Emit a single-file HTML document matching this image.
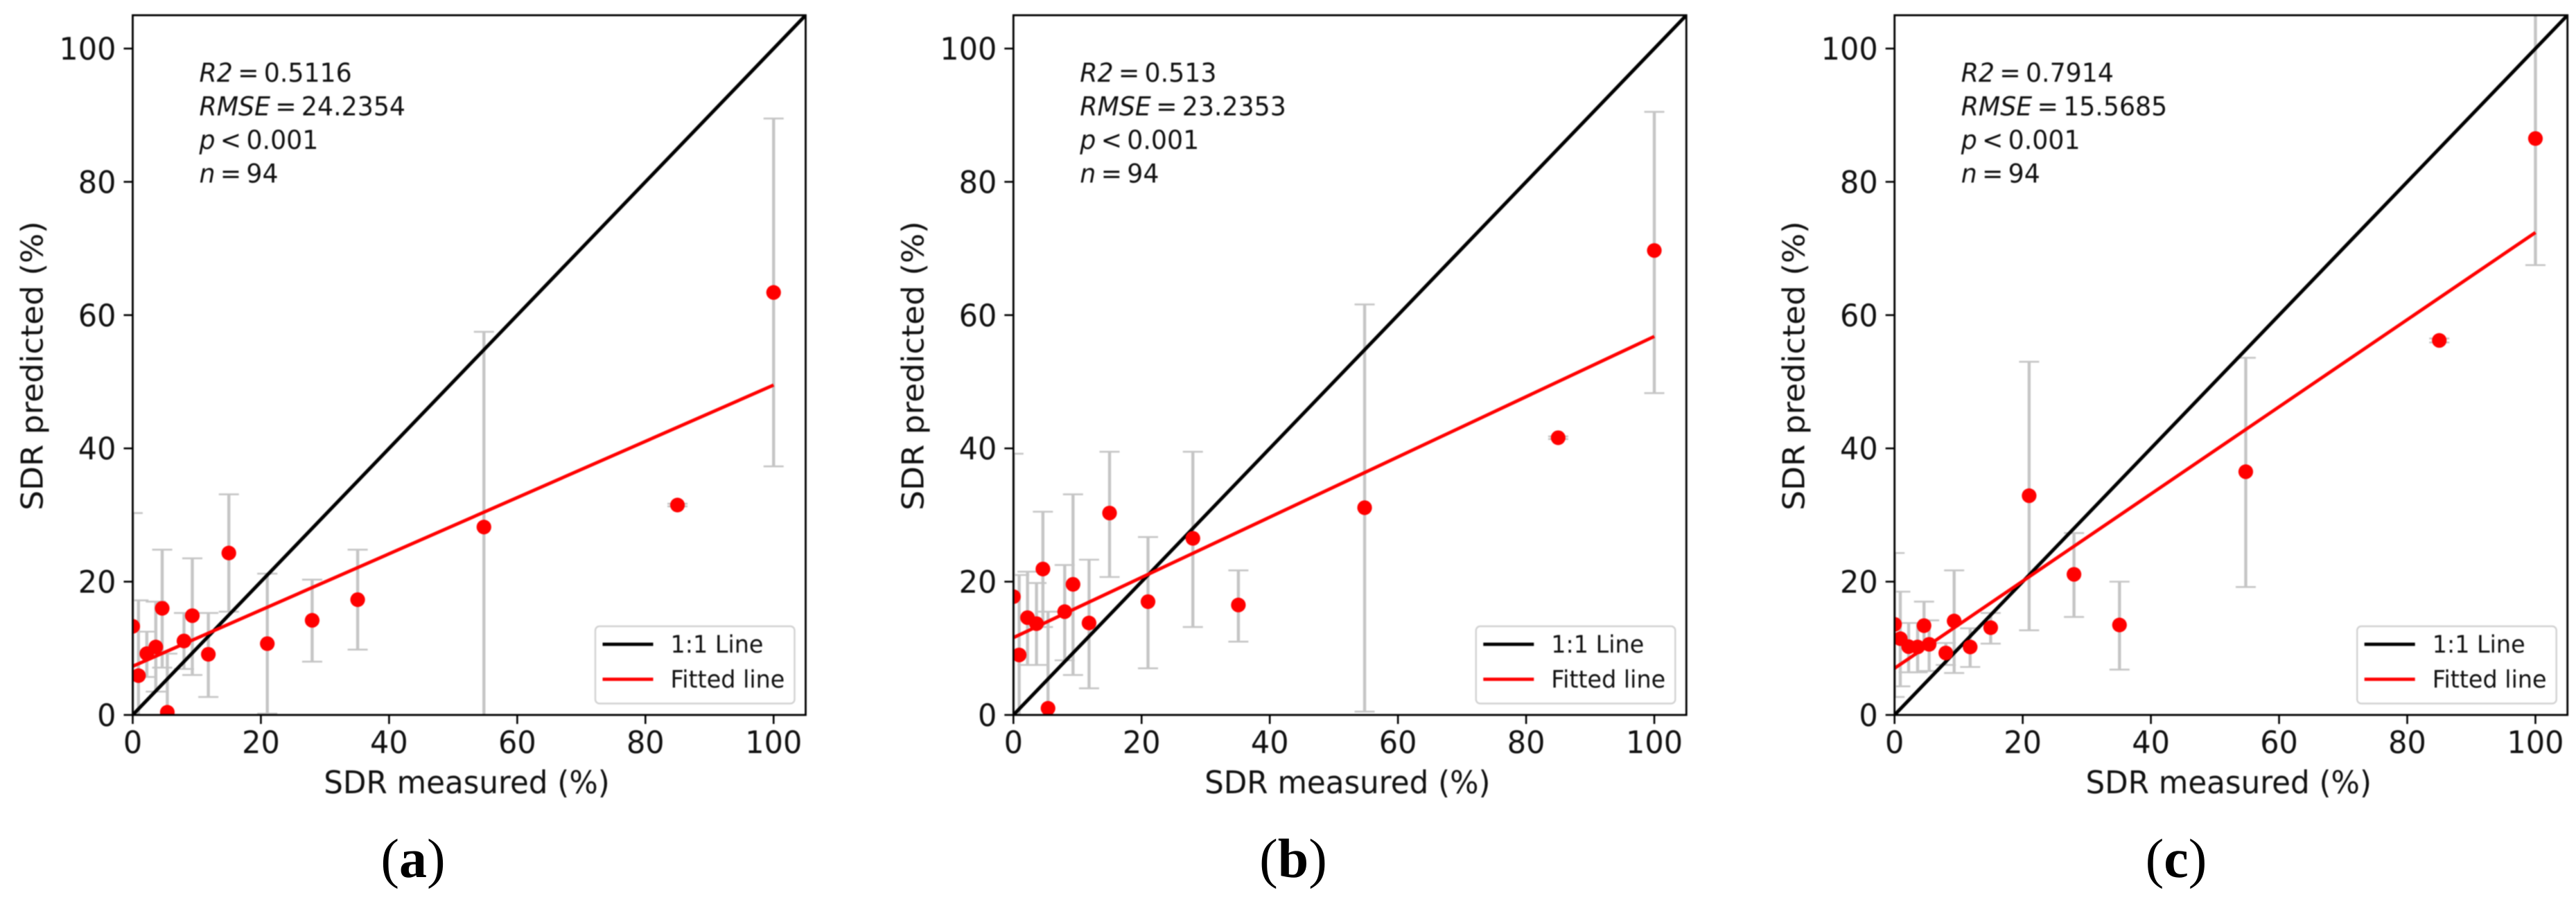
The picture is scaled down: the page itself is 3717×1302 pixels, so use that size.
<!DOCTYPE html>
<html lang="en">
<head>
<meta charset="utf-8">
<title>SDR measured vs predicted</title>
<style>
  html, body { margin: 0; padding: 0; background: #fff; }
  body { width: 3717px; height: 1302px; overflow: hidden; }
  svg { display: block; }
  text { font-family: "DejaVu Sans", "Liberation Sans", sans-serif; fill: #111; text-rendering: geometricPrecision; }
  .caption { font-family: "Liberation Serif", "DejaVu Serif", serif; fill: #000; }
  .soft { filter: blur(0.8px); }
</style>
</head>
<body>
<svg id="figure" xmlns="http://www.w3.org/2000/svg" width="3717" height="1302" viewBox="0 0 3717 1302">
  <rect x="0" y="0" width="3717" height="1302" fill="#fff"/>
  <defs id="defs"></defs>
</svg>
<script>
// ---- shared data ----
const measured = [0, 0.9, 2.2, 3.6, 4.6, 5.4, 8, 9.3, 11.8, 15, 21, 28, 35.1, 54.8, 85, 100];
const xTickValues = [0, 20, 40, 60, 80, 100];
const yTickValues = [0, 20, 40, 60, 80, 100];
const xTickLabels = ["0", "20", "40", "60", "80", "100"];
const yTickLabels = ["0", "20", "40", "60", "80", "100"];
const axisMax = 105;
const identityLine = [0, 105];
const fitX = [0, 100];
const legendLabels = ["1:1 Line", "Fitted line"];

// ---- panel (a) ----
const predictedA = [13.3, 5.9, 9.2, 10.2, 16.0, 0.4, 11.1, 14.9, 9.1, 24.3, 10.7, 14.2, 17.3, 28.2, 31.5, 63.4];
const upperA = [30.3, 17.2, 12.5, 17.0, 24.8, 9.2, 15.3, 23.5, 15.3, 33.1, 21.2, 20.3, 24.8, 57.5, 31.7, 89.5];
const lowerA = [-3.7, -5.4, 5.7, 3.5, 7.1, -8.4, 6.9, 6.0, 2.7, 15.5, 0.2, 8.0, 9.8, -1.1, 31.3, 37.3];
const fitA = [7.3, 49.5];
const statsA = ["0.5116", "24.2354"];

// ---- panel (b) ----
const predictedB = [17.75, 9.0, 14.6, 13.7, 21.9, 1.0, 15.5, 19.6, 13.8, 30.3, 17.0, 26.5, 16.5, 31.1, 41.6, 69.7];
const upperB = [39.2, 21.0, 21.5, 19.8, 30.5, 15.5, 22.5, 33.1, 23.3, 39.5, 26.7, 39.5, 21.7, 61.6, 41.8, 90.5];
const lowerB = [-3.7, -3.0, 7.5, 7.5, 13.2, -13.5, 8.2, 6.0, 4.0, 20.7, 7.0, 13.2, 11.0, 0.5, 41.4, 48.3];
const fitB = [11.6, 56.8];
const statsB = ["0.513", "23.2353"];

// ---- panel (c) ----
const predictedC = [13.6, 11.45, 10.25, 10.2, 13.4, 10.6, 9.3, 14.1, 10.2, 13.1, 32.9, 21.1, 13.5, 36.5, 56.2, 86.5];
const upperC = [24.3, 18.5, 13.8, 13.8, 17.0, 14.2, 10.8, 21.7, 13.0, 15.3, 53.0, 27.3, 20.0, 53.6, 56.5, 105.5];
const lowerC = [2.7, 4.3, 6.4, 6.4, 9.8, 6.6, 7.5, 6.3, 7.2, 10.7, 12.7, 14.7, 6.8, 19.2, 55.9, 67.5];
const fitC = [7.0, 72.4];
const statsC = ["0.7914", "15.5685"];

const NS = "http://www.w3.org/2000/svg";
const svg = document.getElementById("figure");
const defs = document.getElementById("defs");

function make(tag, attrs, parent) {
  const el = document.createElementNS(NS, tag);
  for (const k in attrs) el.setAttribute(k, attrs[k]);
  parent.appendChild(el);
  return el;
}

// image is stretched ~4% vertically in the reference
const STRETCH = 1.04;

function addText(parent, x, y, str, size, anchor) {
  const t = make("text", {
    transform: "translate(" + x + "," + y + ") scale(1," + STRETCH + ")",
    "font-size": size,
    "text-anchor": anchor || "start"
  }, parent);
  t.textContent = str;
  return t;
}

function drawPanel(id, left, captionX, captionStr, predicted, upper, lower, fit, stats) {
  const right = left + 971, top = 22, bottom = 1032;
  const xScale = v => left + v * (right - left) / axisMax;
  const yScale = v => bottom - v * (bottom - top) / axisMax;

  const g = make("g", { class: "soft" }, svg);
  
  

  const clip = make("clipPath", { id: "clip-" + id }, defs);
  make("rect", { x: left, y: top, width: right - left, height: bottom - top }, clip);

  const plot = make("g", { "clip-path": "url(#clip-" + id + ")" }, g);
  
  

  // error bars
  measured.forEach((mx, i) => {
    const bar = make("g", { stroke: "#c5c5c5", fill: "none" }, plot);
    
    
    const x = xScale(mx);
    make("line", { x1: x, x2: x, y1: yScale(lower[i]), y2: yScale(upper[i]), "stroke-width": 4.4 }, bar);
    make("line", { x1: x - 14.5, x2: x + 14.5, y1: yScale(lower[i]), y2: yScale(lower[i]), "stroke-width": 2.6 }, bar);
    make("line", { x1: x - 14.5, x2: x + 14.5, y1: yScale(upper[i]), y2: yScale(upper[i]), "stroke-width": 2.6 }, bar);
  });

  // 1:1 line
  const oneToOne = make("line", {
    x1: xScale(identityLine[0]), y1: yScale(identityLine[0]),
    x2: xScale(identityLine[1]), y2: yScale(identityLine[1]),
    stroke: "#000", "stroke-width": 5
  }, plot);
  
  

  // fitted line
  const fitted = make("line", {
    x1: xScale(fitX[0]), y1: yScale(fit[0]),
    x2: xScale(fitX[1]), y2: yScale(fit[1]),
    stroke: "#f00", "stroke-width": 4.8
  }, plot);
  
  

  // points
  measured.forEach((mx, i) => {
    const c = make("circle", { cx: xScale(mx), cy: yScale(predicted[i]), r: 10.6, fill: "#f00" }, plot);
    
    
  });

  // spines
  const frame = make("rect", { x: left, y: top, width: right - left, height: bottom - top, fill: "none", stroke: "#000", "stroke-width": 2.8 }, g);
  
  

  // x ticks
  xTickValues.forEach((v, i) => {
    const x = xScale(v);
    const tick = make("line", { x1: x, x2: x, y1: bottom, y2: bottom + 13, stroke: "#000", "stroke-width": 2.6 }, g);
    
    
    const label = addText(g, x, 1087, xTickLabels[i], 43, "middle");
    
    
  });

  // y ticks
  yTickValues.forEach((v, i) => {
    const y = yScale(v);
    const tick = make("line", { x1: left - 13, x2: left, y1: y, y2: y, stroke: "#000", "stroke-width": 2.6 }, g);
    
    
    const label = addText(g, left - 24, y + 16, yTickLabels[i], 43, "end");
    
    
  });

  // axis titles
  const xTitle = addText(g, left + 482, 1145, "SDR measured (%)", 43.6, "middle");
  
  

  const yTitle = make("text", {
    transform: "translate(" + (left - 130) + ",528) rotate(-90) scale(" + STRETCH + ",1)",
    "font-size": 43.6,
    "text-anchor": "middle"
  }, g);
  yTitle.textContent = "SDR predicted (%)";
  
  

  // statistics annotation
  const ax = left + 96;
  const lines = [
    ["R2", "\u2009=\u2009" + stats[0], 118],
    ["RMSE", "\u2009=\u2009" + stats[1], 166.5],
    ["p", "\u2009<\u2009" + "0.001", 215],
    ["n", "\u2009=\u2009" + "94", 263.5]
  ];
  lines.forEach(l => {
    const t = addText(g, ax, l[2], "", 36.3, "start");
    const it = make("tspan", { "font-style": "italic" }, t);
    it.textContent = l[0];
    const rest = make("tspan", {}, t);
    rest.textContent = l[1];
    
    
  });

  // legend
  const lg = make("g", {}, g);
  
  
  const box = make("rect", { x: left + 667.5, y: 904, width: 287.5, height: 111.5, rx: 6, ry: 6, fill: "#fff", stroke: "#d2d2d2", "stroke-width": 2.4 }, lg);
  
  
  const s1 = make("line", { x1: left + 678, x2: left + 751, y1: 930, y2: 930, stroke: "#000", "stroke-width": 4.8 }, lg);
  
  
  const s2 = make("line", { x1: left + 678, x2: left + 751, y1: 980.5, y2: 980.5, stroke: "#f00", "stroke-width": 4.8 }, lg);
  
  
  const t1 = addText(lg, left + 776, 942, legendLabels[0], 33.4, "start");
  
  
  const t2 = addText(lg, left + 776, 992.5, legendLabels[1], 33.4, "start");
  
  

  // caption
  const cap = make("text", { x: captionX, y: 1266, class: "caption", "font-size": 80, "text-anchor": "middle" }, svg);
  const p1 = make("tspan", {}, cap); p1.textContent = "(";
  const p2 = make("tspan", { "font-weight": "bold" }, cap); p2.textContent = captionStr;
  const p3 = make("tspan", {}, cap); p3.textContent = ")";
  
  
}

drawPanel("a", 191.5, 596, "a", predictedA, upperA, lowerA, fitA, statsA);
drawPanel("b", 1462.3, 1866, "b", predictedB, upperB, lowerB, fitB, statsB);
drawPanel("c", 2733.7, 3140, "c", predictedC, upperC, lowerC, fitC, statsC);
</script>
</body>
</html>
